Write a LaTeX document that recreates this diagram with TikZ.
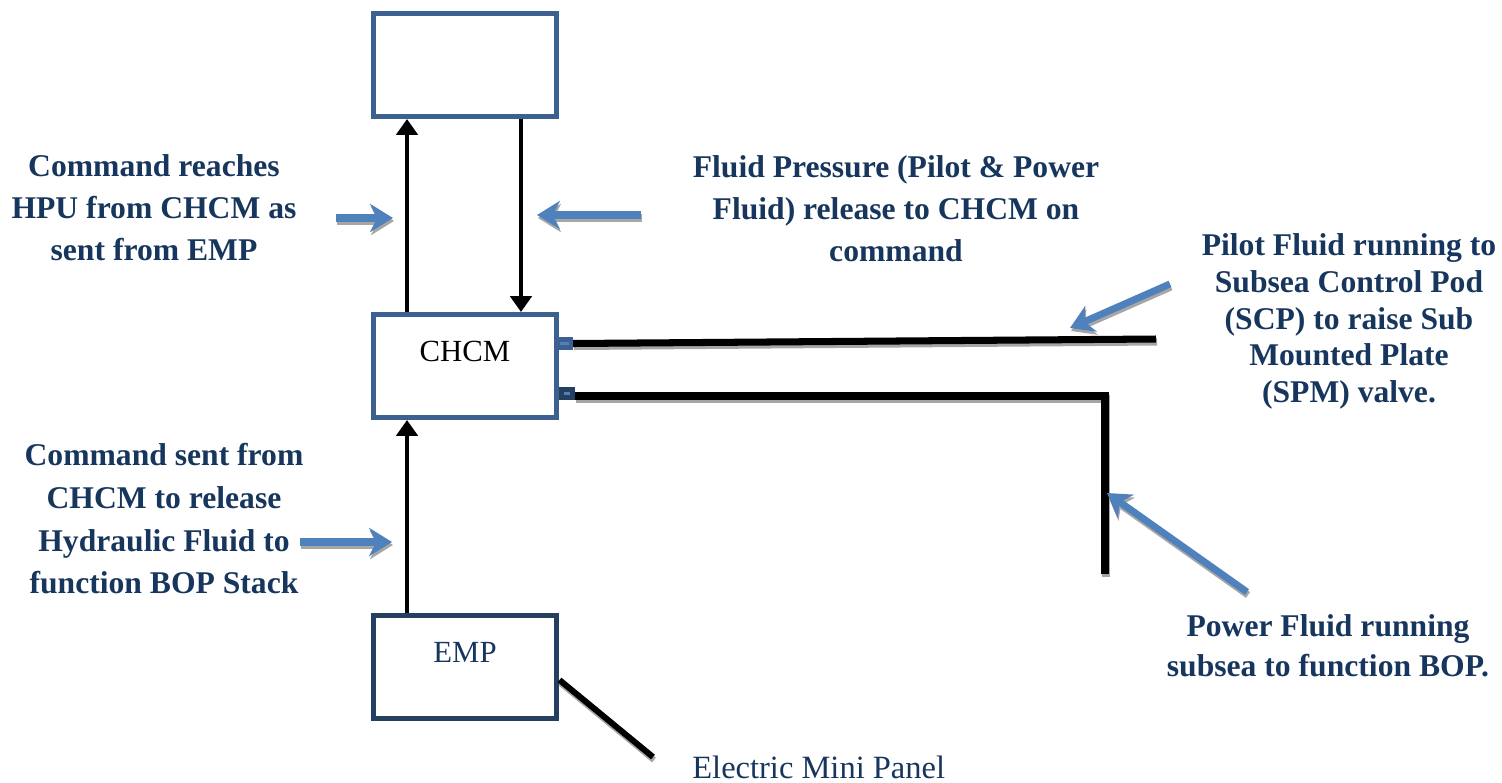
\documentclass[tikz,border=0pt]{standalone}
\usepackage{fontspec}
\setmainfont{Liberation Serif}
\usetikzlibrary{arrows.meta}
\definecolor{boxblue}{HTML}{3C608F}
\definecolor{boxnavy}{HTML}{243F60}
\definecolor{arrowblue}{HTML}{4F81BD}
\definecolor{shadowgray}{HTML}{A6A6A6}
\definecolor{textnavy}{HTML}{17365D}
\begin{document}
\begin{tikzpicture}[x=0.02cm,y=-0.02cm,
  box/.style={draw, line width=2.85pt, minimum width=3.68cm, minimum height=2.06cm, inner sep=0pt, fill=white},
  boxtext/.style={font=\fontsize{17.5pt}{21pt}\selectfont, text height=11.4pt, text depth=16pt},
  lbl/.style={font=\bfseries\fontsize{18pt}{21pt}\selectfont, text=textnavy, align=center, inner sep=0pt, anchor=north},
  blk/.style={draw=black, line width=2.6pt, -{Triangle[width=12pt,length=9pt]}},
  heavy/.style={line width=4pt, draw=black},
  port/.style={draw, line width=2.3pt, fill=arrowblue, minimum width=0.26cm, minimum height=0.16cm, inner sep=0pt},
  callout/.style={line width=4pt, draw=arrowblue, -{Stealth[length=13pt,width=16pt,inset=4pt]}},
  shadowed/.style={transform canvas={xshift=0.02cm,yshift=-0.06cm}}
]
\useasboundingbox (0,0) rectangle (1502,782);

% boxes
\node[box, draw=boxblue] (hpu) at (465,65) {};
\node[box, draw=boxblue, boxtext] (chcm) at (465,366) {CHCM};
\node[box, draw=boxnavy, boxtext, text=textnavy] (emp) at (465,667) {EMP};

% ports on CHCM
\node[port, draw=boxblue] (p1) at (564.5,343.5) {};
\node[port, draw=boxnavy, minimum width=0.22cm] (p2) at (567,393.5) {};

% free ends
\coordinate (pilotend) at (1156,339);
\coordinate (bend) at (1105,396);
\coordinate (powerend) at (1105,574);
\coordinate (empend) at (653,757);

% callout ends
\coordinate (c1s) at (336,218);  \coordinate (c1e) at (393,218);
\coordinate (c2s) at (641,215);  \coordinate (c2e) at (537,215);
\coordinate (c3s) at (300,542);  \coordinate (c3e) at (392,542);
\coordinate (c4s) at (1170,284); \coordinate (c4e) at (1070,328);
\coordinate (c5s) at (1247,592); \coordinate (c5e) at (1107,493);

% shadows
\begin{scope}[shadowed]
  \draw[heavy, draw=shadowgray] (p1.east) -- (pilotend);
  \draw[heavy, draw=shadowgray] (p2.east |- bend) -- (bend) -- (powerend);
  \draw[heavy, draw=shadowgray, line width=3.4pt] ([yshift=-0.26cm]emp.east) -- (empend);
  \draw[callout, draw=shadowgray] (c1s) -- (c1e);
  \draw[callout, draw=shadowgray] (c2s) -- (c2e);
  \draw[callout, draw=shadowgray] (c3s) -- (c3e);
  \draw[callout, draw=shadowgray] (c4s) -- (c4e);
  \draw[callout, draw=shadowgray] (c5s) -- (c5e);
\end{scope}

% heavy lines
\draw[heavy] (p1.east) -- (pilotend);
\draw[heavy] (p2.east |- bend) -- (bend) -- (powerend);
\draw[heavy, line width=3.4pt] ([yshift=-0.26cm]emp.east) -- (empend);

% black arrows
\draw[blk] ([xshift=0.73cm]chcm.north west) -- ([xshift=0.73cm]hpu.south west);
\draw[blk] ([xshift=3.01cm]hpu.south west) -- ([xshift=3.01cm]chcm.north west);
\draw[blk] ([xshift=0.73cm]emp.north west) -- ([xshift=0.73cm]chcm.south west);

% callout arrows
\draw[callout] (c1s) -- (c1e);
\draw[callout] (c2s) -- (c2e);
\draw[callout] (c3s) -- (c3e);
\draw[callout] (c4s) -- (c4e);
\draw[callout] (c5s) -- (c5e);

% labels
\node[lbl, font=\bfseries\fontsize{18pt}{24pt}\selectfont] (l1) at (154,154) {Command reaches\\HPU from CHCM as\\sent from EMP};
\node[lbl, font=\bfseries\fontsize{18pt}{24pt}\selectfont] (l2) at (896,155) {Fluid Pressure (Pilot \& Power\\Fluid) release to CHCM on\\command};
\node[lbl] (l3) at (1349,233) {Pilot Fluid running to\\Subsea Control Pod\\(SCP) to raise Sub\\Mounted Plate\\(SPM) valve.};
\node[lbl, font=\bfseries\fontsize{18pt}{24.3pt}\selectfont] (l4) at (164,443) {Command sent from\\CHCM to release\\Hydraulic Fluid to\\function BOP Stack};
\node[lbl, font=\bfseries\fontsize{18pt}{22.8pt}\selectfont] (l5) at (1328,614) {Power Fluid running\\subsea to function BOP.};
\node[font=\fontsize{18.5pt}{22pt}\selectfont, text=textnavy, anchor=base west, inner sep=0pt] (emplabel) at (692,778) {Electric Mini Panel};
\end{tikzpicture}
\end{document}
